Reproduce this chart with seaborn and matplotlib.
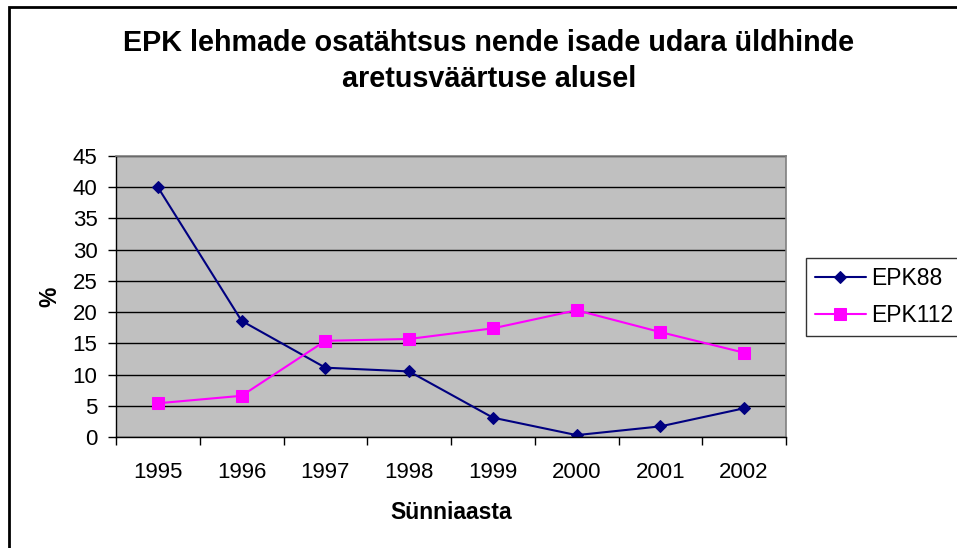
import matplotlib
matplotlib.use("Agg")
import matplotlib.pyplot as plt
from matplotlib.patches import Rectangle
from matplotlib.ticker import FixedLocator, NullFormatter
import pandas as pd
import seaborn as sns

years = [1995, 1996, 1997, 1998, 1999, 2000, 2001, 2002]
epk88 = [40.0, 18.6, 11.1, 10.5, 3.1, 0.3, 1.7, 4.6]
epk112 = [5.4, 6.6, 15.4, 15.7, 17.4, 20.3, 16.8, 13.5]

title = "EPK lehmade osatähtsus nende isade udara üldhinde\naretusväärtuse alusel"
x_label = "Sünniaasta"
y_label = "%"

df = pd.DataFrame({"year": years, "EPK88": epk88, "EPK112": epk112})

sns.set_style("white")
plt.rcParams["font.family"] = ["Liberation Sans", "DejaVu Sans"]
plt.rcParams["text.color"] = "black"
plt.rcParams["axes.labelcolor"] = "black"
plt.rcParams["xtick.color"] = "black"
plt.rcParams["ytick.color"] = "black"

fig = plt.figure(figsize=(9.57, 5.48), dpi=100)
ax = fig.add_axes([116 / 957, 1 - 437 / 548, 670 / 957, 281 / 548])
ax.set_facecolor("#C0C0C0")

sns.lineplot(data=df, x="year", y="EPK88", ax=ax, color="#000080", marker="D",
             markersize=6.5, markeredgecolor="#000080", linewidth=1.5, label="EPK88")
sns.lineplot(data=df, x="year", y="EPK112", ax=ax, color="#FF00FF", marker="s",
             markersize=9, markeredgecolor="#FF00FF", linewidth=1.5, label="EPK112")

ax.set_xlim(years[0] - 0.5, years[-1] + 0.5)
ax.set_ylim(0, 45)
ax.set_yticks(range(0, 46, 5))
ax.yaxis.grid(True, color="black", linewidth=1)
ax.set_axisbelow(True)

ax.xaxis.set_major_locator(FixedLocator([y - 0.5 for y in years] + [years[-1] + 0.5]))
ax.xaxis.set_major_formatter(NullFormatter())
ax.xaxis.set_minor_locator(FixedLocator(years))
ax.set_xticklabels([str(y) for y in years], minor=True)
ax.tick_params(axis="x", which="major", direction="out", length=5.5, width=1, color="black", bottom=True)
ax.tick_params(axis="x", which="minor", length=0, pad=18, labelsize=16)
ax.tick_params(axis="y", direction="out", length=5.8, width=1, color="black", left=True, pad=7.5, labelsize=16)

for side in ["left", "bottom"]:
    ax.spines[side].set_color("black")
    ax.spines[side].set_linewidth(1)
for side in ["top", "right"]:
    ax.spines[side].set_color("#808080")
    ax.spines[side].set_linewidth(1.2)

ax.set_xlabel(x_label, fontsize=16.5, fontweight="bold", labelpad=13)
ax.set_ylabel(y_label, fontsize=16.5, fontweight="bold", labelpad=8)

fig.text(489 / 957, 1 - 61 / 548, title, ha="center", va="center", fontsize=20.7,
         fontweight="bold", linespacing=1.32)

leg = ax.legend(loc="upper left", bbox_to_anchor=(806 / 957, 1 - 258 / 548),
                bbox_transform=fig.transFigure, borderaxespad=0, fontsize=16.5,
                frameon=True, fancybox=False, handlelength=2.2, handletextpad=0.26,
                borderpad=0.4, labelspacing=0.6)
leg.get_frame().set_edgecolor("black")
leg.get_frame().set_linewidth(1)

fig.patches.append(Rectangle((9 / 957, -0.1), 1.2, 1.1 - 7 / 548, transform=fig.transFigure,
                             fill=False, edgecolor="black", linewidth=2))

fig.savefig("out.png", dpi=100)
